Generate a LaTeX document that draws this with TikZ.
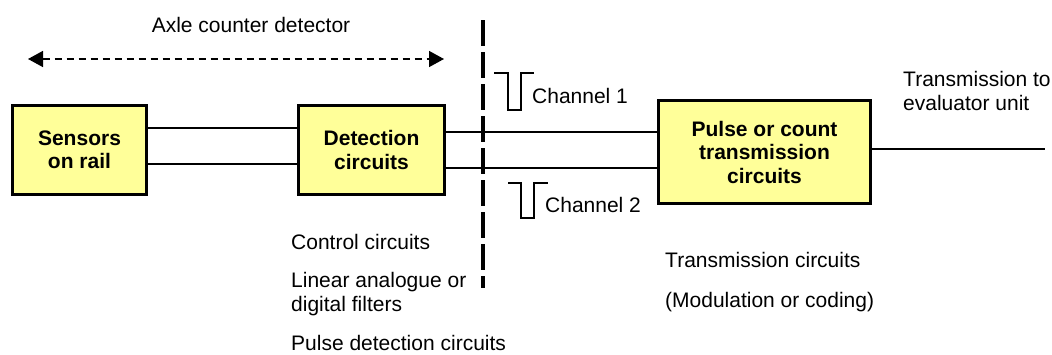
\documentclass[tikz,border=0pt]{standalone}
\usepackage{fontspec}
\setmainfont{Liberation Sans}
\usepackage{xcolor}
\usepackage{tikz}
\usetikzlibrary{arrows.meta}
\definecolor{boxyellow}{HTML}{FFFF99}
\tikzstyle{every node}=[font=\fontsize{21}{24}\selectfont]
\tikzstyle{block}=[draw=black,line width=3pt,fill=boxyellow,align=center,font=\fontsize{21}{23.5}\selectfont\bfseries]
\tikzstyle{wire}=[line width=2pt]
\tikzstyle{note}=[anchor=west,inner sep=0pt,align=left]
\tikzstyle{pulse}=[line width=1.3pt]
\tikzstyle{divider}=[line width=4.5pt,dash pattern=on 26pt off 6pt]
\tikzstyle{span}=[line width=1.5pt,dash pattern=on 7pt off 5pt,
    {Triangle[length=15pt,width=16pt]}-{Triangle[length=15pt,width=16pt]}]

\begin{document}
\begin{tikzpicture}[x=1pt,y=-1pt]
    \useasboundingbox (0,0) rectangle (1052,354);

    \node [block,minimum width=134pt,minimum height=89pt] (sensors) at (79.5,150) {Sensors\\on rail};
    \node [block,minimum width=146pt,minimum height=89pt] (detect) at (371.5,150) {Detection\\circuits};
    \node [block,minimum width=212pt,minimum height=103pt] (pulse) at (764.5,152) {Pulse or count\\transmission\\circuits};

    \coordinate (s1) at ([yshift=22pt]sensors.east);
    \coordinate (s2) at ([yshift=-14pt]sensors.east);
    \coordinate (ch1) at ([yshift=18pt]detect.east);
    \coordinate (ch2) at ([yshift=-18pt]detect.east);
    \coordinate (tx) at ([yshift=3pt]pulse.east);
    \coordinate (evaluator) at (1045,149);

    \draw [wire] (s1) -- (s1 -| detect.west);
    \draw [wire] (s2) -- (s2 -| detect.west);
    \draw [wire] (ch1) -- (ch1 -| pulse.west);
    \draw [wire] (ch2) -- (ch2 -| pulse.west);
    \draw [wire] (tx) -- (evaluator);

    \draw [divider] (483,20) -- (483,288);

    \draw [span] (28,59) -- (444,59);
    \node (axle) at (251,25) {Axle counter detector};

    \draw [pulse] (494,73) -| (508,110) -| (521,73) -- (534,73);
    \draw [pulse] (508,183) -| (521,218) -| (534,183) -- (548,183);
    \node [note] (chan1) at (532,96) {Channel 1};
    \node [note] (chan2) at (545,205) {Channel 2};

    \node [note] (eval) at (903,91) {Transmission to\\evaluator unit};

    \node [note] (ctrl) at (291,242) {Control circuits};
    \node [note] (filt) at (291,294) {Linear analogue or\\digital filters};
    \node [note] (pdet) at (291,343) {Pulse detection circuits};

    \node [note] (txc) at (665,260) {Transmission circuits};
    \node [note] (modc) at (665,302) {(Modulation or coding)};
\end{tikzpicture}
\end{document}
